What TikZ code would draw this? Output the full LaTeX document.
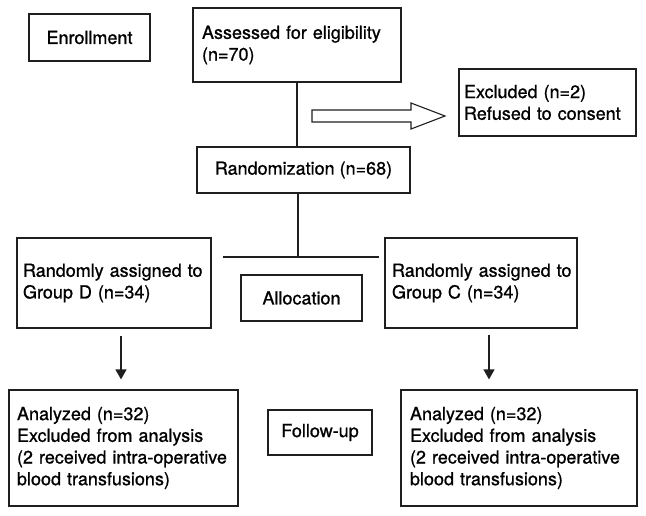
\documentclass[tikz,border=0pt]{standalone}
\usepackage{fontspec}
\setmainfont[FakeBold=0.9]{TeX Gyre Heros}
\usetikzlibrary{arrows.meta}
\begin{document}
\begin{tikzpicture}[x=1pt,y=-1pt,
  every node/.style={font=\fontsize{18}{21.7}\selectfont},
  box/.style={draw=black!88, line width=1.2pt, rectangle, inner ysep=0pt},
  cbox/.style={box, align=center, inner xsep=0pt},
  lbox/.style={box, align=left},
  ln/.style={draw=black!88, line width=1.2pt},
  arr/.style={ln, -{Triangle[length=10pt,width=11pt]}}
]
\useasboundingbox (0,0) rectangle (646,515);

\node[cbox, minimum width=121pt, minimum height=47pt] (enr) at (89.5,37.5) {Enrollment};
\node[lbox, text width=190pt, inner xsep=9pt, minimum height=74pt] (ass) at (297,45)
  {\mbox{Assessed for eligibility}\\(n=70)};
\node[lbox, text width=167pt, inner xsep=5pt, minimum height=67pt] (exc) at (547.5,102.5)
  {\mbox{Excluded (n=2)}\\\mbox{Refused to consent}};
\node[cbox, minimum width=213pt, minimum height=46pt] (rand) at (303.5,170) {Randomization (n=68)};
\node[cbox, minimum width=121pt, minimum height=46pt] (alloc) at (301.5,298) {Allocation};
\node[lbox, text width=182pt, inner xsep=6pt, minimum height=90pt] (gd) at (114,283)
  {\mbox{Randomly assigned to}\\\mbox{Group D (n=34)}};
\node[lbox, text width=178pt, inner xsep=7pt, minimum height=90pt] (gc) at (481,283)
  {\mbox{Randomly assigned to}\\\mbox{Group C (n=34)}};
\node[lbox, text width=213pt, inner xsep=8pt, minimum height=116pt] (ad) at (123.5,448)
  {\mbox{Analyzed (n=32)}\\\mbox{Excluded from analysis}\\\mbox{(2 received intra-operative}\\\mbox{blood transfusions)}};
\node[lbox, text width=218pt, inner xsep=9pt, minimum height=116pt] (ac) at (519,448)
  {\mbox{Analyzed (n=32)}\\\mbox{Excluded from analysis}\\\mbox{(2 received intra-operative}\\\mbox{blood transfusions)}};
\node[cbox, minimum width=104pt, minimum height=45pt] (fu) at (320,432.5) {Follow-up};

% connectors
\draw[ln] (ass.south) -- (ass.south |- rand.north);
\coordinate (hl) at (223,257);
\coordinate (hr) at (379,257);
\coordinate (hm) at (298,257);
\draw[ln] (hm |- rand.south) -- (hm);
\draw[ln] (hl) -- (hr);
\draw[arr] ([shift={(7pt,-7pt)}]gd.south) -- ([shift={(-2.5pt,10pt)}]ad.north);
\draw[arr] ([shift={(8pt,-6pt)}]gc.south) -- ([shift={(-30pt,10pt)}]ac.north);

% hollow arrow
\draw[draw=black!88, line width=1.1pt, fill=white, line join=miter]
  (312,110) -- (411,110) -- (411,103) -- (445,116) -- (411,129) -- (411,122) -- (312,122) -- cycle;
\end{tikzpicture}
\end{document}
